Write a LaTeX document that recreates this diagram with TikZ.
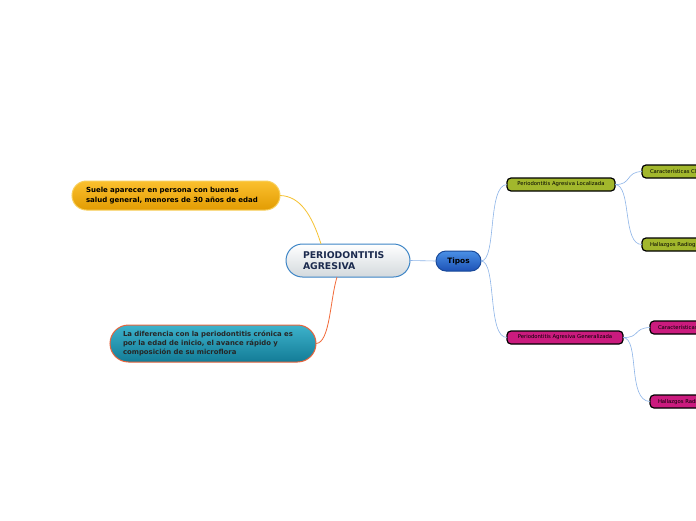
\documentclass[tikz,border=0pt]{standalone}
\usepackage{fontspec}
\setmainfont{DejaVu Sans}
\begin{document}
\begin{tikzpicture}[x=1pt,y=-1pt,
  every node/.style={inner sep=0pt, outer sep=0pt},
  pill/.style={draw, line width=1pt, align=left, font=\bfseries},
  small/.style={draw=black, line width=1.2pt, rounded corners=4pt, font=\fontsize{5.3}{6}\selectfont, minimum height=13pt, text=black},
  conn/.style={line width=0.6pt},
]
\definecolor{yel1}{HTML}{FBC02E}
\definecolor{yel2}{HTML}{E29C03}
\definecolor{yelB}{HTML}{F8CF5A}
\definecolor{yelL}{HTML}{F6C232}
\definecolor{teal1}{HTML}{3DB2CB}
\definecolor{teal2}{HTML}{137C97}
\definecolor{tealB}{HTML}{E8643C}
\definecolor{oraL}{HTML}{F26B3A}
\definecolor{cen2}{HTML}{D3D9DD}
\definecolor{cenB}{HTML}{3D85C6}
\definecolor{navy}{HTML}{1B2A4E}
\definecolor{tip1}{HTML}{4A90E6}
\definecolor{tip2}{HTML}{1D52B6}
\definecolor{tipB}{HTML}{1A4A9A}
\definecolor{bluL}{HTML}{8DB4E8}
\definecolor{oli}{HTML}{A2B72C}
\definecolor{mag}{HTML}{CB1B7E}
\useasboundingbox (0,0) rectangle (696,520);
\clip (0,0) rectangle (696,520);
\fill[white] (0,0) rectangle (696,520);

\node[pill, draw=yelB, top color=yel1, bottom color=yel2, rounded corners=14.5pt,
  minimum width=208pt, minimum height=29pt, text width=180pt, inner xsep=14pt,
  font=\bfseries\fontsize{7}{10}\selectfont, text=black] (yel) at (176,195.5)
  {Suele aparecer en persona con buenas\\salud general, menores de 30 años de edad};

\node[pill, draw=tealB, top color=teal1, bottom color=teal2, rounded corners=18.5pt,
  minimum width=206pt, minimum height=37pt, text width=180pt, inner xsep=13pt,
  font=\bfseries\fontsize{6.9}{8.6}\selectfont, text=black!85] (teal) at (213,343.5)
  {La diferencia con la periodontitis crónica es\\por la edad de inicio, el avance rápido y\\composición de su microflora};

\node[pill, draw=cenB, top color=white, bottom color=cen2, rounded corners=16.5pt,
  minimum width=124pt, minimum height=33pt, text width=90pt, inner xsep=17pt,
  font=\bfseries\fontsize{9.3}{11}\selectfont, text=navy] (cen) at (348,260.5)
  {PERIODONTITIS\\AGRESIVA};

\node[pill, draw=tipB, top color=tip1, bottom color=tip2, rounded corners=10pt,
  minimum width=45pt, minimum height=20pt, align=center,
  font=\bfseries\fontsize{7.4}{8}\selectfont, text=black] (tip) at (458.5,261)
  {Tipos};

\node[small, fill=oli, minimum width=108pt] (loc) at (561,184.5) {Periodontitis Agresiva Localizada};
\node[small, fill=mag, minimum width=116pt] (gen) at (565,337.5) {Periodontitis Agresiva Generalizada};

\node[small, fill=oli, anchor=west, inner xsep=8pt] (lc1) at (642,171.5) {Características Clínicas};
\node[small, fill=oli, anchor=west, inner xsep=8pt] (lc2) at (642,244.5) {Hallazgos Radiográficos};
\node[small, fill=mag, anchor=west, inner xsep=8pt] (gc1) at (650,327.5) {Características Clínicas};
\node[small, fill=mag, anchor=west, inner xsep=8pt] (gc2) at (650,401.5) {Hallazgos Radiográficos};

\draw[line width=0.8pt, yelL] (yel.east) .. controls (300,196) and (312,215) .. ([xshift=-27pt]cen.north);
\draw[line width=0.8pt, oraL] ([xshift=-11pt]cen.south) .. controls (330,300) and (330,343) .. (teal.east);
\draw[conn, draw=bluL] (cen.east) -- (tip.west);
\draw[conn, draw=bluL] (tip.east) .. controls (497,261) and (487,185) .. (loc.west);
\draw[conn, draw=bluL] (tip.east) .. controls (497,261) and (487,338) .. (gen.west);
\draw[conn, draw=bluL] (loc.east) .. controls (632,185) and (625,172) .. (lc1.west);
\draw[conn, draw=bluL] (loc.east) .. controls (632,185) and (622,245) .. (lc2.west);
\draw[conn, draw=bluL] (gen.east) .. controls (640,338) and (633,328) .. (gc1.west);
\draw[conn, draw=bluL] (gen.east) .. controls (640,338) and (627,401) .. (gc2.west);
\end{tikzpicture}
\end{document}
